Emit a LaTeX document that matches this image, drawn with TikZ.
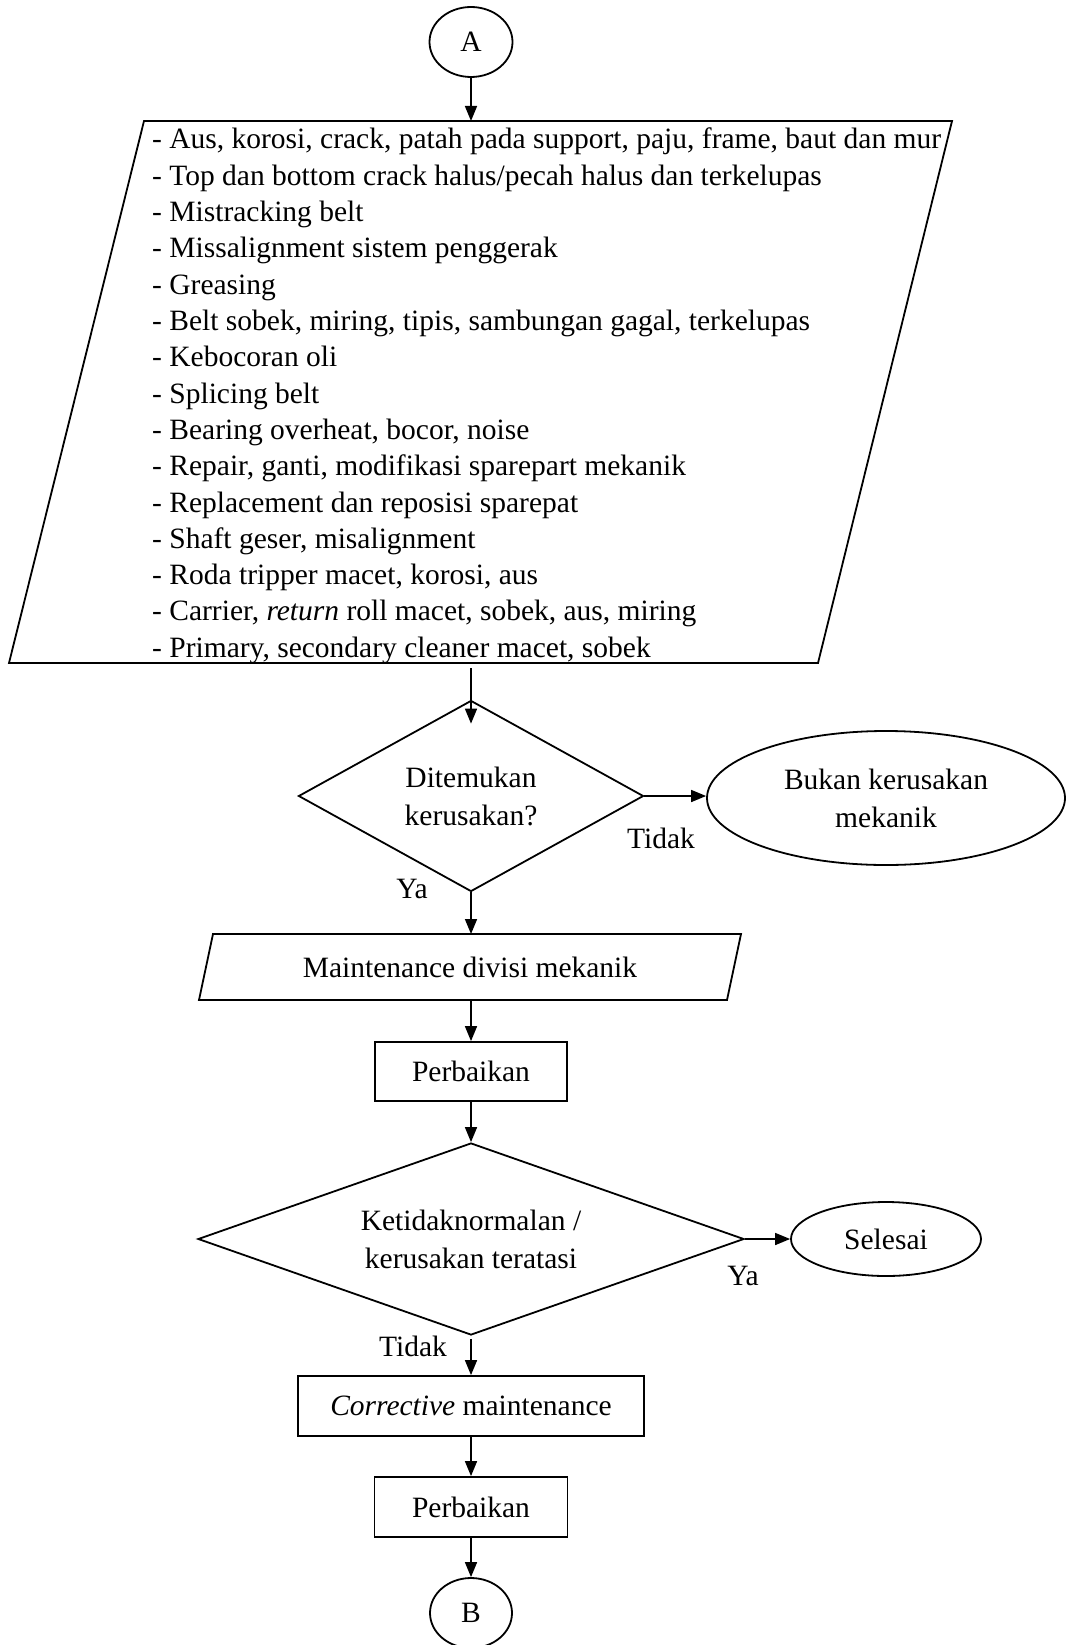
\documentclass[tikz,border=0pt]{standalone}
\usepackage{fontspec}
\setmainfont{Liberation Serif}
\usetikzlibrary{shapes.geometric,arrows.meta}
\begin{document}
\begin{tikzpicture}[x=1pt,y=-1pt,
  every node/.style={font=\fontsize{29.5pt}{38pt}\selectfont, inner sep=0pt},
  outline/.style={line width=1.8pt},
  arr/.style={line width=1.6pt,-{Triangle[length=15pt,width=12pt]}},
  terminal/.style={ellipse,draw,line width=1.8pt,align=center},
  procbox/.style={rectangle,draw,line width=1.8pt},
  decision/.style={diamond,draw,line width=1.8pt,align=center},
  lbl/.style={anchor=base},
  listitem/.style={anchor=base west}]
\useasboundingbox (0,0) rectangle (1069,1645);

% start connector
\node[terminal, minimum width=83pt, minimum height=70pt] (A) at (471,42) {A};

% input block with the list of checks
\draw[outline] (144,121) coordinate (lp1) -- (952,121) coordinate (lp2)
  -- (818,663) coordinate (lp3) -- (9,663) coordinate (lp4) -- cycle;
\coordinate (listIn) at (471,121);
\coordinate (listOut) at (471,663);
\foreach \t [count=\i from 0] in {
  {- Aus, korosi, crack, patah pada support, paju, frame, baut dan mur},
  {- Top dan bottom crack halus/pecah halus dan terkelupas},
  {- Mistracking belt},
  {- Missalignment sistem penggerak},
  {- Greasing},
  {- Belt sobek, miring, tipis, sambungan gagal, terkelupas},
  {- Kebocoran oli},
  {- Splicing belt},
  {- Bearing overheat, bocor, noise},
  {- Repair, ganti, modifikasi sparepart mekanik},
  {- Replacement dan reposisi sparepat},
  {- Shaft geser, misalignment},
  {- Roda tripper macet, korosi, aus},
  {- Carrier, {\itshape return} roll macet, sobek, aus, miring},
  {- Primary, secondary cleaner macet, sobek}}
  \node[listitem] (li\i) at (152,{149+36.3*\i}) {\t};

% first decision
\node[decision, aspect=1.8, minimum width=345pt, minimum height=191pt] (d1) at (471,796) {Ditemukan\\kerusakan?};
\node[terminal, minimum width=358pt, minimum height=134pt] (e1) at (886,798) {Bukan kerusakan\\mekanik};
\node[lbl] (t1) at (661,848) {Tidak};
\node[lbl] (y1) at (412,898) {Ya};

% maintenance input block
\draw[outline] (213,934) -- (741,934) -- (727,1000) -- (199,1000) -- cycle;
\node (mdm) at (470,967) {Maintenance divisi mekanik};
\coordinate (mIn) at (471,934);
\coordinate (mOut) at (471,1000);

\node[procbox, minimum width=192pt, minimum height=59pt] (pb1) at (471,1071.5) {Perbaikan};

% second decision
\node[decision, aspect=2.8, minimum width=546pt, minimum height=192pt] (d2) at (471,1239) {Ketidaknormalan /\\kerusakan teratasi};
\node[terminal, minimum width=190pt, minimum height=74pt] (sel) at (886,1239) {Selesai};
\node[lbl] (y2) at (743,1285) {Ya};
\node[lbl] (t2) at (413,1356) {Tidak};

\node[procbox, minimum width=346pt, minimum height=60pt] (cm) at (471,1406) {{\itshape Corrective} maintenance};
\node[procbox, minimum width=193pt, minimum height=60pt] (pb2) at (471,1507) {Perbaikan};

% end connector
\node[terminal, minimum width=82pt, minimum height=70pt] (B) at (471,1613) {B};

% connectors
\draw[arr] (A) -- (listIn);
\draw[arr] ([yshift=-5pt]listOut) -- ([yshift=-24pt]d1.north);
\draw[arr] (d1.east) -- (d1.east -| e1.west);
\draw[arr] (d1.south) -- (mIn);
\draw[arr] (mOut) -- (pb1.north);
\draw[arr] (pb1.south) -- (d2.north);
\draw[arr] (d2.east) -- (d2.east -| sel.west);
\draw[arr] ([yshift=-3pt]d2.south) -- (cm.north);
\draw[arr] (cm.south) -- (pb2.north);
\draw[arr] (pb2.south) -- (B.north);
\end{tikzpicture}
\end{document}
